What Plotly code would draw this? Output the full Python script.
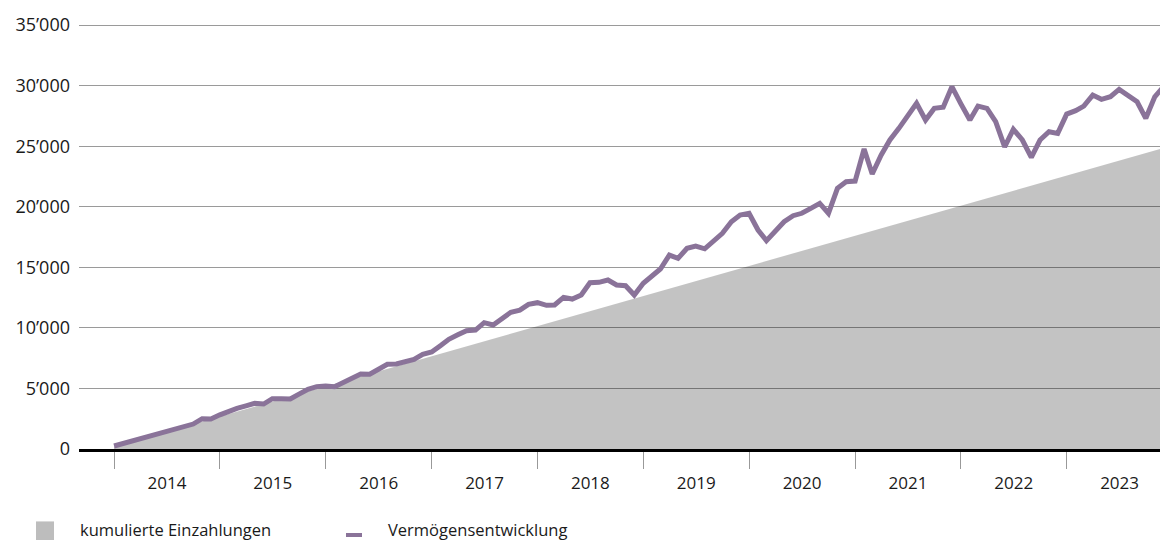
import plotly.graph_objects as go
import pandas as pd

# Monthly portfolio value (Vermögensentwicklung), Jan 2014 onwards
wealth = [
    250, 450, 660, 930, 1120, 1310, 1510, 1700, 1880, 2060, 2500, 2480,
    2820, 3160, 3360, 3560, 3770, 3710, 4150, 4140, 4130, 4530, 4930, 5150,
    5200, 5140, 5500, 5780, 6190, 6170, 6600, 6990, 7020, 7200, 7400, 7820,
    8010, 8550, 9060, 9430, 9770, 9820, 10430, 10240, 10770, 11290, 11470, 11940,
    12080, 11860, 11890, 12520, 12380, 12710, 13730, 13760, 13950, 13540, 13480, 12710,
    13680, 14300, 14860, 16010, 15740, 16570, 16760, 16530, 17200, 17810, 18760, 19320,
    19460, 18080, 17200, 18000, 18760, 19260, 19460, 19870, 20280, 19460, 21520, 22070,
    22120, 24770, 22700, 24270, 25510, 26470, 27430, 28540, 27160, 28120, 28210, 29910,
    28500, 27160, 28310, 28120, 27020, 24950, 26390, 25510, 24080, 25510, 26190, 26060,
    27650, 27930, 28310, 29220, 28870, 29080, 29690, 29160, 28670, 27300, 29080, 29900,
]
wealth_dates = pd.date_range("2014-01-01", periods=len(wealth), freq="MS")

# Cumulative payments (kumulierte Einzahlungen): straight line
payment_dates = ["2014-01-01", "2023-12-01"]
payments = [200, 24850]

y_ticks = [0, 5000, 10000, 15000, 20000, 25000, 30000, 35000]
y_ticktext = ["0", "5’000", "10’000", "15’000", "20’000", "25’000", "30’000", "35’000"]

legend_labels = ["kumulierte Einzahlungen", "Vermögensentwicklung"]

AREA = "rgba(0,0,0,0.235)"
LINE = "#8a7399"
FONT = "Open Sans"
TXT = "#1a1a1a"

fig = go.Figure()
fig.add_trace(go.Scatter(
    x=payment_dates, y=payments, mode="lines", fill="tozeroy",
    fillcolor=AREA, line=dict(width=0, color=AREA), hoverinfo="skip",
    name=legend_labels[0], showlegend=False,
))
fig.add_trace(go.Scatter(
    x=wealth_dates, y=wealth, mode="lines",
    line=dict(color=LINE, width=5), name=legend_labels[1], showlegend=False,
))

# plot area: x 79..1160, y 23..449 ; y range [0, 35170] -> 35'000 at y~25
fig.update_layout(
    width=1160, height=540,
    margin=dict(l=79, r=0, t=23, b=91),
    paper_bgcolor="white", plot_bgcolor="white",
    font=dict(family=FONT, size=17, color=TXT),
    xaxis=dict(
        type="date",
        range=["2013-09-02", "2023-11-19"],
        tick0="2014-01-01", dtick="M12", tickformat="%Y",
        ticklabelmode="period",
        ticks="outside", ticklen=17, tickwidth=1, tickcolor="#999999",
        showgrid=False, zeroline=False,
        showline=True, linecolor="black", linewidth=3,
        tickfont=dict(family=FONT, size=17, color=TXT),
    ),
    yaxis=dict(
        range=[0, 35170],
        tickvals=y_ticks, ticktext=y_ticktext,
        showgrid=True, gridcolor="#9a9a9a", gridwidth=1,
        zeroline=False, ticks="", ticklabelstandoff=8,
        tickfont=dict(family=FONT, size=18, color=TXT),
    ),
)

# Manual legend
fig.add_shape(type="rect", xref="paper", yref="paper",
              x0=-0.0398, x1=-0.0231, y0=-0.170, y1=-0.215,
              fillcolor="#bdbdbd", line=dict(width=0))
fig.add_annotation(xref="paper", yref="paper", x=-0.001, y=-0.19,
                   text=legend_labels[0], showarrow=False,
                   xanchor="left", yanchor="middle",
                   font=dict(family=FONT, size=16.5, color=TXT))
fig.add_shape(type="line", xref="paper", yref="paper",
              x0=(346 - 79) / 1081, x1=(362 - 79) / 1081,
              y0=(449 - 535) / 426, y1=(449 - 535) / 426,
              line=dict(color=LINE, width=4))
fig.add_annotation(xref="paper", yref="paper", x=(386 - 79) / 1081, y=-0.19,
                   text=legend_labels[1], showarrow=False,
                   xanchor="left", yanchor="middle",
                   font=dict(family=FONT, size=16.5, color=TXT))

fig.write_html("out.html", config={"displayModeBar": False},
               post_script="document.body.style.margin='0';document.body.style.overflow='hidden';")
